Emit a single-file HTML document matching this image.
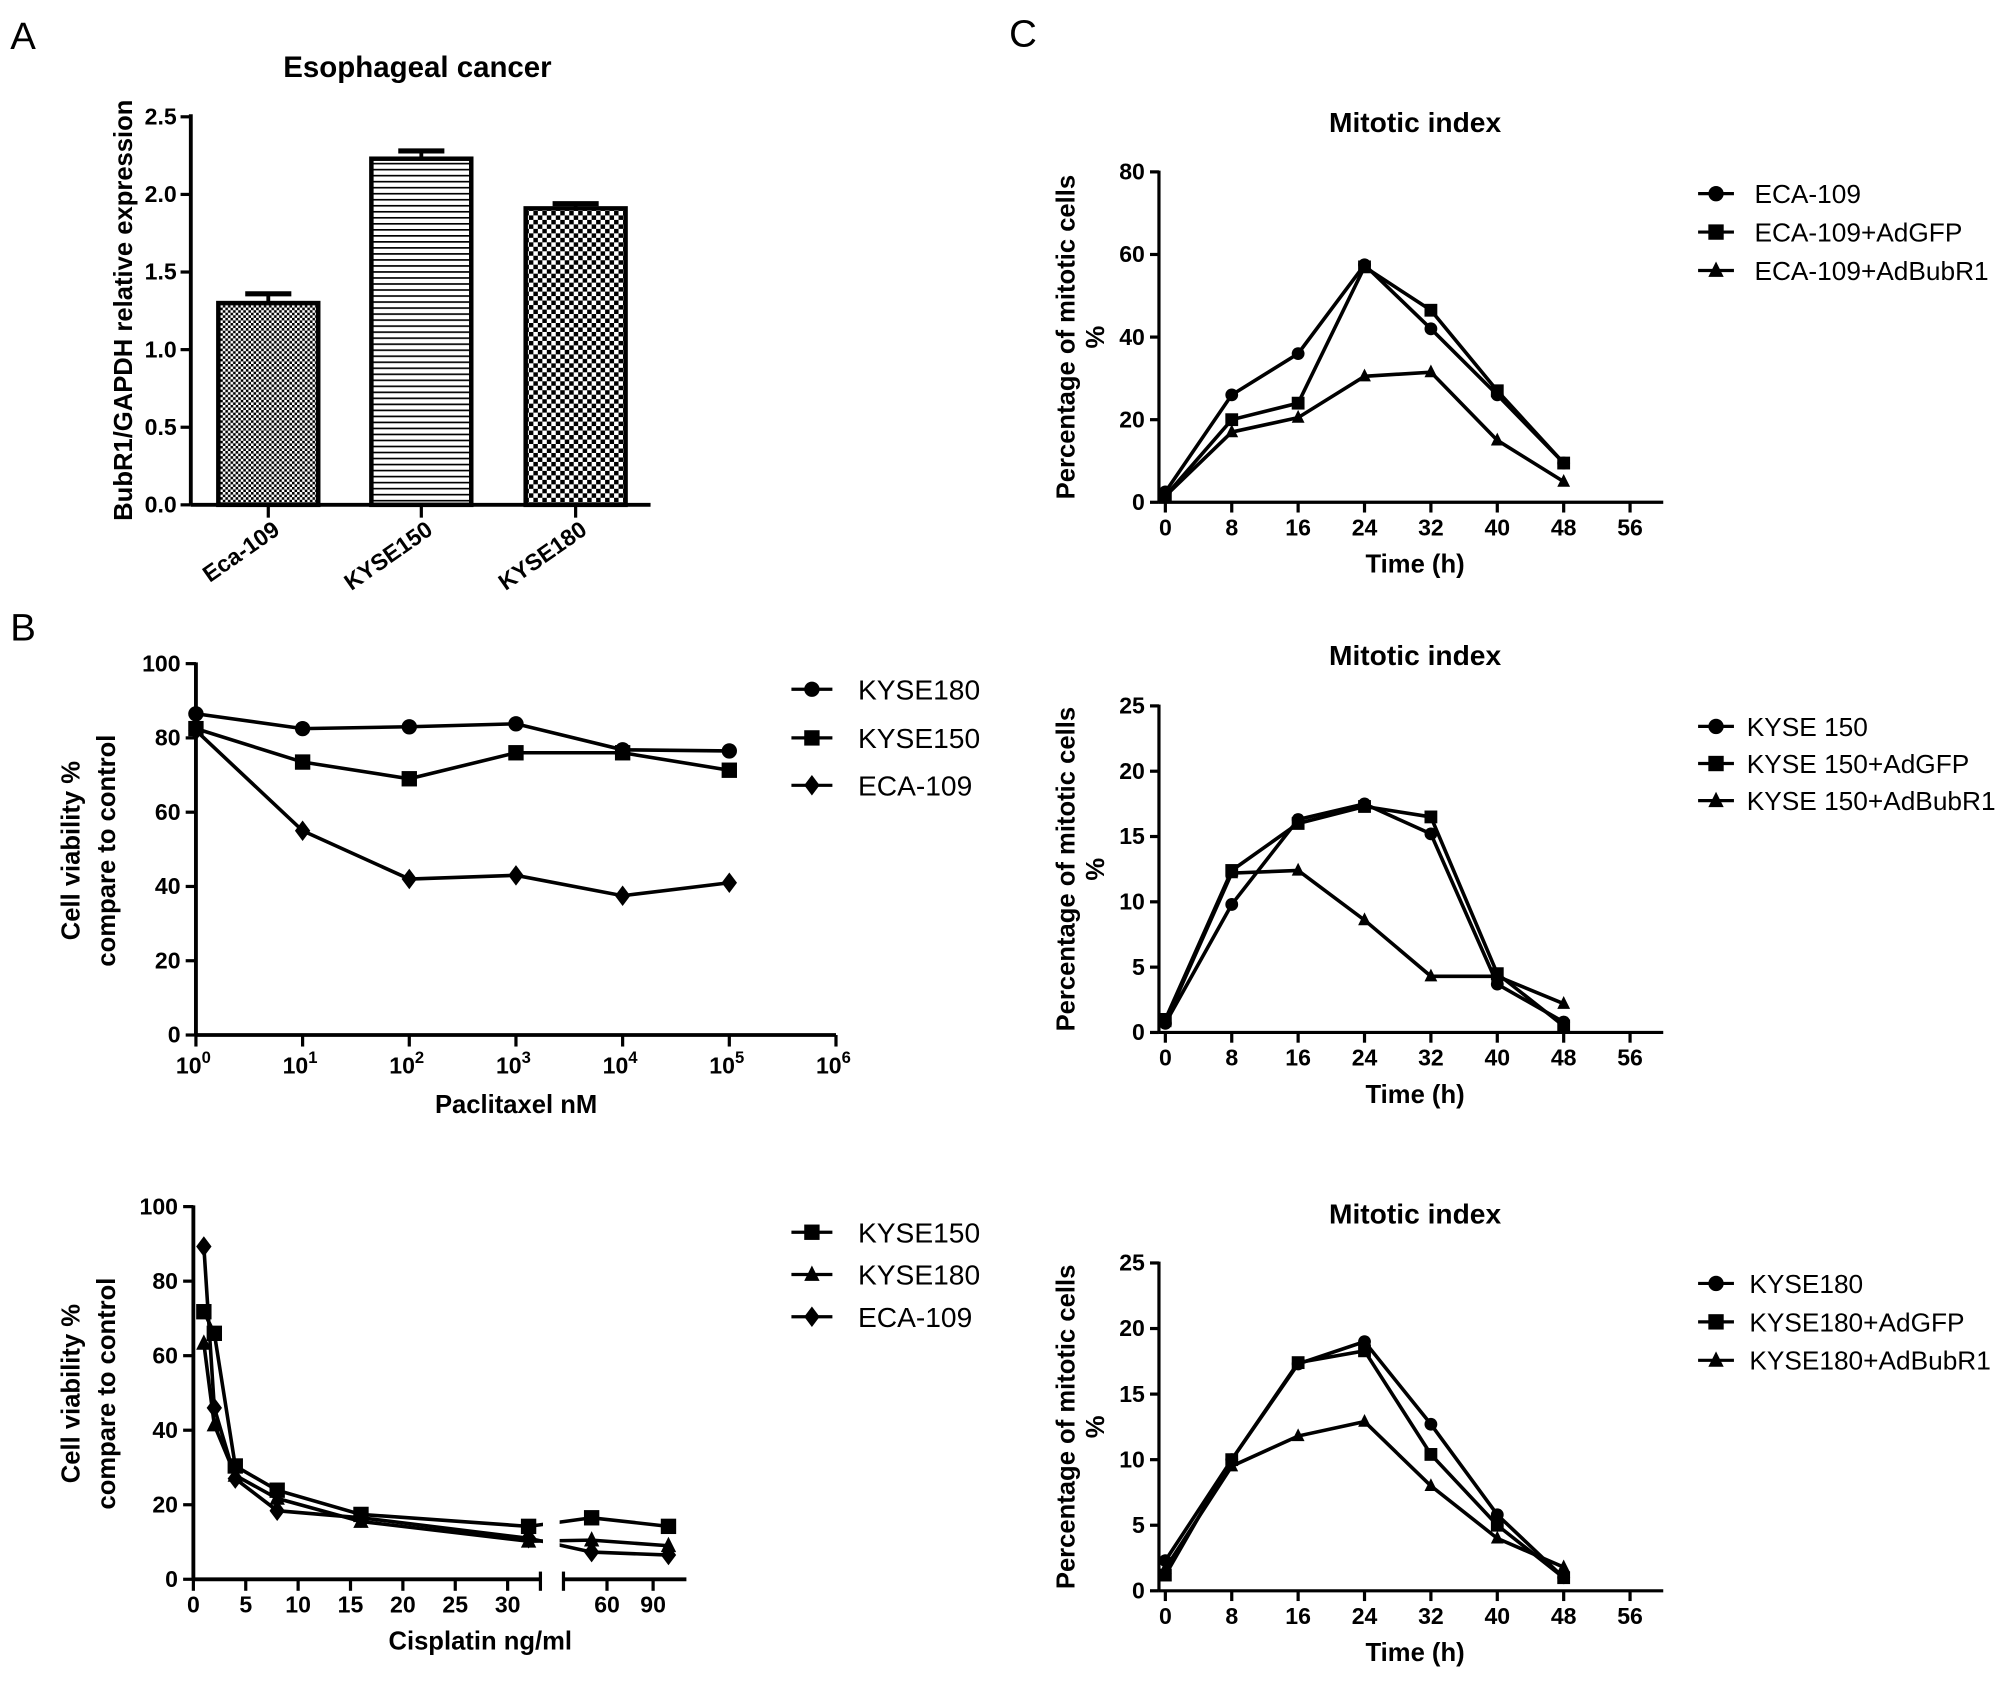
<!DOCTYPE html>
<html><head><meta charset="utf-8"><style>
html,body{margin:0;padding:0;background:#fff}
svg{display:block}
text{font-family:"Liberation Sans",Arial,sans-serif;fill:#000}
.t{font-weight:bold;font-size:18px}
.ax{font-weight:bold;font-size:20px}
</style></head><body>
<svg id="fig" width="2008" height="1682" viewBox="0 0 1568 1313" xmlns="http://www.w3.org/2000/svg">
<defs>
<pattern id="p1" width="4" height="4" patternUnits="userSpaceOnUse"><rect width="4" height="4" fill="#fff"/><rect width="2" height="2" fill="#000"/><rect x="2" y="2" width="2" height="2" fill="#000"/></pattern>
<pattern id="p2" width="10" height="4.7" patternUnits="userSpaceOnUse"><rect width="10" height="4.7" fill="#fff"/><rect width="10" height="1.3" fill="#000"/></pattern>
<pattern id="p3" width="7" height="7" patternUnits="userSpaceOnUse"><rect width="7" height="7" fill="#fff"/><rect width="3.5" height="3.5" fill="#000"/><rect x="3.5" y="3.5" width="3.5" height="3.5" fill="#000"/></pattern>
<clipPath id="gapclip"><rect x="0" y="0" width="424" height="1313"/><rect x="437" y="0" width="200" height="1313"/></clipPath>
</defs>
<text x="8" y="38" font-size="30">A</text>
<text x="8" y="500" font-size="30">B</text>
<text x="788" y="36" font-size="30">C</text>
</svg>
<script>
// Panel A data
const aCats=["Eca-109","KYSE150","KYSE180"];
const aVals=[1.30,2.23,1.91];
const aErr=[0.06,0.05,0.03];
const aTicks=[0,0.5,1,1.5,2,2.5];
// Panel B1 data (paclitaxel)
const b1X=[0,1,2,3,4,5];
const b1Names=["KYSE180","KYSE150","ECA-109"];
const b1K180=[86.5,82.5,83,83.8,76.8,76.5];
const b1K150=[82.5,73.5,69,76,76,71.3];
const b1ECA=[82,55,42,43,37.5,41];
const b1Ticks=[0,20,40,60,80,100];
// Panel B2 data (cisplatin)
const b2X=[1,2,4,8,16,32,50,100];
const b2Names=["KYSE150","KYSE180","ECA-109"];
const b2K150=[71.8,66,30.4,23.9,17.4,14.2,16.5,14.2];
const b2K180=[63.3,41.4,27.9,21.7,15.5,10.2,10.5,9];
const b2ECA=[89.3,46,27,18.4,16.5,11,7.3,6.5];
const b2Ticks=[0,20,40,60,80,100];
const b2XTicksL=[5,10,15,20,25,30];
const b2XTicksR=[60,90];
// Panel C data
const cTime=[0,8,16,24,32,40,48];
const cXTicks=[0,8,16,24,32,40,48,56];
const c1Names=["ECA-109","ECA-109+AdGFP","ECA-109+AdBubR1"];
const c1A=[2.5,26,36,57.5,42,26,9.5];
const c1B=[1.5,20,24,57,46.5,27,9.5];
const c1C=[1.5,17,20.5,30.5,31.5,15,5];
const c1Ticks=[0,20,40,60,80];
const c2Names=["KYSE 150","KYSE 150+AdGFP","KYSE 150+AdBubR1"];
const c2A=[0.7,9.8,16.3,17.5,15.2,3.7,0.8];
const c2B=[1,12.4,16,17.3,16.5,4.5,0.5];
const c2C=[0.8,12.2,12.4,8.6,4.3,4.3,2.2];
const c3Names=["KYSE180","KYSE180+AdGFP","KYSE180+AdBubR1"];
const c3A=[2.3,10,17.3,19,12.7,5.8,1];
const c3B=[1.2,10,17.4,18.3,10.4,5,1];
const c3C=[1.7,9.5,11.8,12.9,8,4,1.8];
const c23Ticks=[0,5,10,15,20,25];

const NS="http://www.w3.org/2000/svg";
const svg=document.getElementById('fig');
function el(tag,attrs,parent,txt){const e=document.createElementNS(NS,tag);for(const k in attrs)e.setAttribute(k,attrs[k]);if(txt!==undefined)e.textContent=txt;(parent||svg).appendChild(e);return e;}
function line(x1,y1,x2,y2,w,p){return el('line',{x1,y1,x2,y2,stroke:'#000','stroke-width':w||2.5},p);}
function marker(kind,x,y,p,s){s=s||6;let m;
 if(kind==='c')m=el('circle',{cx:x,cy:y,r:s},p);
 else if(kind==='s')m=el('rect',{x:x-s,y:y-s,width:2*s,height:2*s},p);
 else if(kind==='t')m=el('polygon',{points:`${x},${y-s-1} ${x+s},${y+s-1} ${x-s},${y+s-1}`},p);
 else m=el('polygon',{points:`${x},${y-s-2} ${x+s},${y} ${x},${y+s+2} ${x-s},${y}`},p);
 m.setAttribute('fill','#000');return m;}

// ---------- Panel A ----------
(function(){
 const g=el('g',{});
 
 
 const x0=149,y0=394,y1=91,xEnd=508;
 const ys=v=>y0-(v/2.5)*(y0-y1);
 el('text',{x:326,y:60,'font-size':23,'font-weight':'bold','text-anchor':'middle'},g,'Esophageal cancer');
 const pats=['url(#p1)','url(#p2)','url(#p3)'];
 const centers=[209.5,329,449.5];
 aVals.forEach((v,i)=>{
  const cx=centers[i];
  const r=el('rect',{x:cx-39,y:ys(v),width:78,height:y0-ys(v),fill:pats[i],stroke:'#000','stroke-width':3.5},g);
  
  
  line(cx,ys(v),cx,ys(v+aErr[i]),3,g);
  line(cx-18,ys(v+aErr[i]),cx+18,ys(v+aErr[i]),4,g);
  line(cx,y0,cx,y0+10,2.5,g);
  const t=el('text',{x:cx+10,y:y0+22,class:'t','text-anchor':'end',transform:`rotate(-35 ${cx+10} ${y0+22})`},g,aCats[i]);
  
  
 });
 line(x0,y0,xEnd,y0,3,g);line(x0,y1-2,x0,y0,3,g);
 aTicks.forEach(v=>{line(x0-8,ys(v),x0,ys(v),2.5,g);el('text',{x:x0-11,y:ys(v)+6,class:'t','text-anchor':'end'},g,v.toFixed(1));});
 const yl=el('text',{x:103,y:242,class:'ax','text-anchor':'middle',transform:'rotate(-90 103 242)'},g,'BubR1/GAPDH relative expression');
 
 
})();

function drawSeries(g,xs,vals,xf,yf,kind,clip,ms){
 const pts=vals.map((v,i)=>[xf(xs[i]),yf(v)]);
 const pl=el('polyline',{points:pts.map(p=>p.join(',')).join(' '),fill:'none',stroke:'#000','stroke-width':2.8},g);
 if(clip)pl.setAttribute('clip-path','url(#gapclip)');
 
 
 pts.forEach(p=>{const m=marker(kind,p[0],p[1],g,ms);
  
  });
}
function legend(g,x,ys,names,kinds,fs,tx,len){
 names.forEach((n,i)=>{
  line(x-len,ys[i],x+len,ys[i],2.5,g);marker(kinds[i],x,ys[i],g,6);
  const t=el('text',{x:tx,y:ys[i]+fs*0.36,'font-size':fs},g,n);
  
  
 });
}

// ---------- Panel B1 ----------
(function(){
 const g=el('g',{});
 
 
 const x0=153,y0=808,y1=518,dec=83.3;
 const xs=v=>x0+v*dec, ys=v=>y0-v/100*(y0-y1);
 line(x0,y0,x0+6*dec,y0,3,g);line(x0,y1-1,x0,y0,3,g);
 b1Ticks.forEach(v=>{line(x0-8,ys(v),x0,ys(v),2.5,g);el('text',{x:x0-12,y:ys(v)+6,class:'t','text-anchor':'end'},g,String(v));});
 for(let d=0;d<=6;d++){line(xs(d),y0,xs(d),y0+9,2.5,g);
  const t=el('text',{x:xs(d)-2,y:y0+30,class:'t','text-anchor':'middle'},g);
  el('tspan',{},t,'10');el('tspan',{dy:-8,'font-size':13},t,String(d));}
 el('text',{x:403,y:869,class:'ax','text-anchor':'middle'},g,'Paclitaxel nM');
 el('text',{x:62,y:664,class:'ax','text-anchor':'middle',transform:'rotate(-90 62 664)'},g,'Cell viability %');
 el('text',{x:90,y:664,class:'ax','text-anchor':'middle',transform:'rotate(-90 90 664)'},g,'compare to control');
 drawSeries(g,b1X,b1K180,xs,ys,'c');
 drawSeries(g,b1X,b1K150,xs,ys,'s');
 drawSeries(g,b1X,b1ECA,xs,ys,'d');
 legend(g,634,[538,576,613],b1Names,['c','s','d'],22,670,16);
})();

// ---------- Panel B2 ----------
(function(){
 const g=el('g',{});
 
 
 const x0=151,y0=1233,y1=942,u=8.18;
 const xs=v=>v<=40?x0+v*u:474+(v-60)*1.2;
 const ys=v=>y0-v/100*(y0-y1);
 line(x0,y0,422,y0,3,g);line(440,y0,536,y0,3,g);
 line(422,y0-6,422,y0+9,2.5,g);line(440,y0-6,440,y0+9,2.5,g);
 line(x0,y1-1,x0,y0,3,g);
 b2Ticks.forEach(v=>{line(x0-8,ys(v),x0,ys(v),2.5,g);el('text',{x:x0-12,y:ys(v)+6,class:'t','text-anchor':'end'},g,String(v));});
 line(x0,y0,x0,y0+9,2.5,g);
 el('text',{x:x0,y:y0+26,class:'t','text-anchor':'middle'},g,'0');
 b2XTicksL.concat(b2XTicksR).forEach(v=>{line(xs(v),y0,xs(v),y0+9,2.5,g);el('text',{x:xs(v),y:y0+26,class:'t','text-anchor':'middle'},g,String(v));});
 el('text',{x:375,y:1288,class:'ax','text-anchor':'middle'},g,'Cisplatin ng/ml');
 el('text',{x:62,y:1088,class:'ax','text-anchor':'middle',transform:'rotate(-90 62 1088)'},g,'Cell viability %');
 el('text',{x:90,y:1088,class:'ax','text-anchor':'middle',transform:'rotate(-90 90 1088)'},g,'compare to control');
 drawSeries(g,b2X,b2K150,xs,ys,'s',true);
 drawSeries(g,b2X,b2K180,xs,ys,'t',true);
 drawSeries(g,b2X,b2ECA,xs,ys,'d',true);
 legend(g,634,[962,995,1028],b2Names,['s','t','d'],22,670,16);
})();

// ---------- Panel C ----------
function cPanel(name,title,titleY,y0,y1,ymax,ticks,A,B,C,names,legY,tx){
 const g=el('g',{});
 
 
 const x0=905,xa=910,u=6.48;
 const xs=v=>xa+v*u, ys=v=>y0-v/ymax*(y0-y1);
 el('text',{x:1105,y:titleY,'font-size':22,'font-weight':'bold','text-anchor':'middle'},g,title);
 line(x0,y0,xs(60),y0,2.5,g);line(x0,y1-1,x0,y0,2.5,g);
 ticks.forEach(v=>{line(x0-7,ys(v),x0,ys(v),2.5,g);el('text',{x:x0-11,y:ys(v)+6,class:'t','text-anchor':'end'},g,String(v));});
 cXTicks.forEach(v=>{line(xs(v),y0,xs(v),y0+8,2.5,g);el('text',{x:xs(v),y:y0+26,class:'t','text-anchor':'middle'},g,String(v));});
 el('text',{x:1105,y:y0+55,class:'ax','text-anchor':'middle'},g,'Time (h)');
 const my=(y0+y1)/2;
 el('text',{x:839,y:my,class:'ax','text-anchor':'middle',transform:`rotate(-90 839 ${my})`},g,'Percentage of mitotic cells');
 el('text',{x:862,y:my,class:'ax','text-anchor':'middle',transform:`rotate(-90 862 ${my})`},g,'%');
 drawSeries(g,cTime,A,xs,ys,'c',false,5);
 drawSeries(g,cTime,B,xs,ys,'s',false,5);
 drawSeries(g,cTime,C,xs,ys,'t',false,5);
 legend(g,1340,legY,names,['c','s','t'],20.5,tx,14);
}
cPanel('mitotic-index-eca109','Mitotic index',103,392,134,80,c1Ticks,c1A,c1B,c1C,c1Names,[151,181,211],1370);
cPanel('mitotic-index-kyse150','Mitotic index',519,806,551,25,c23Ticks,c2A,c2B,c2C,c2Names,[567,596,625],1364);
cPanel('mitotic-index-kyse180','Mitotic index',955,1242,986,25,c23Ticks,c3A,c3B,c3C,c3Names,[1002,1032,1062],1366);
</script>
</body></html>
